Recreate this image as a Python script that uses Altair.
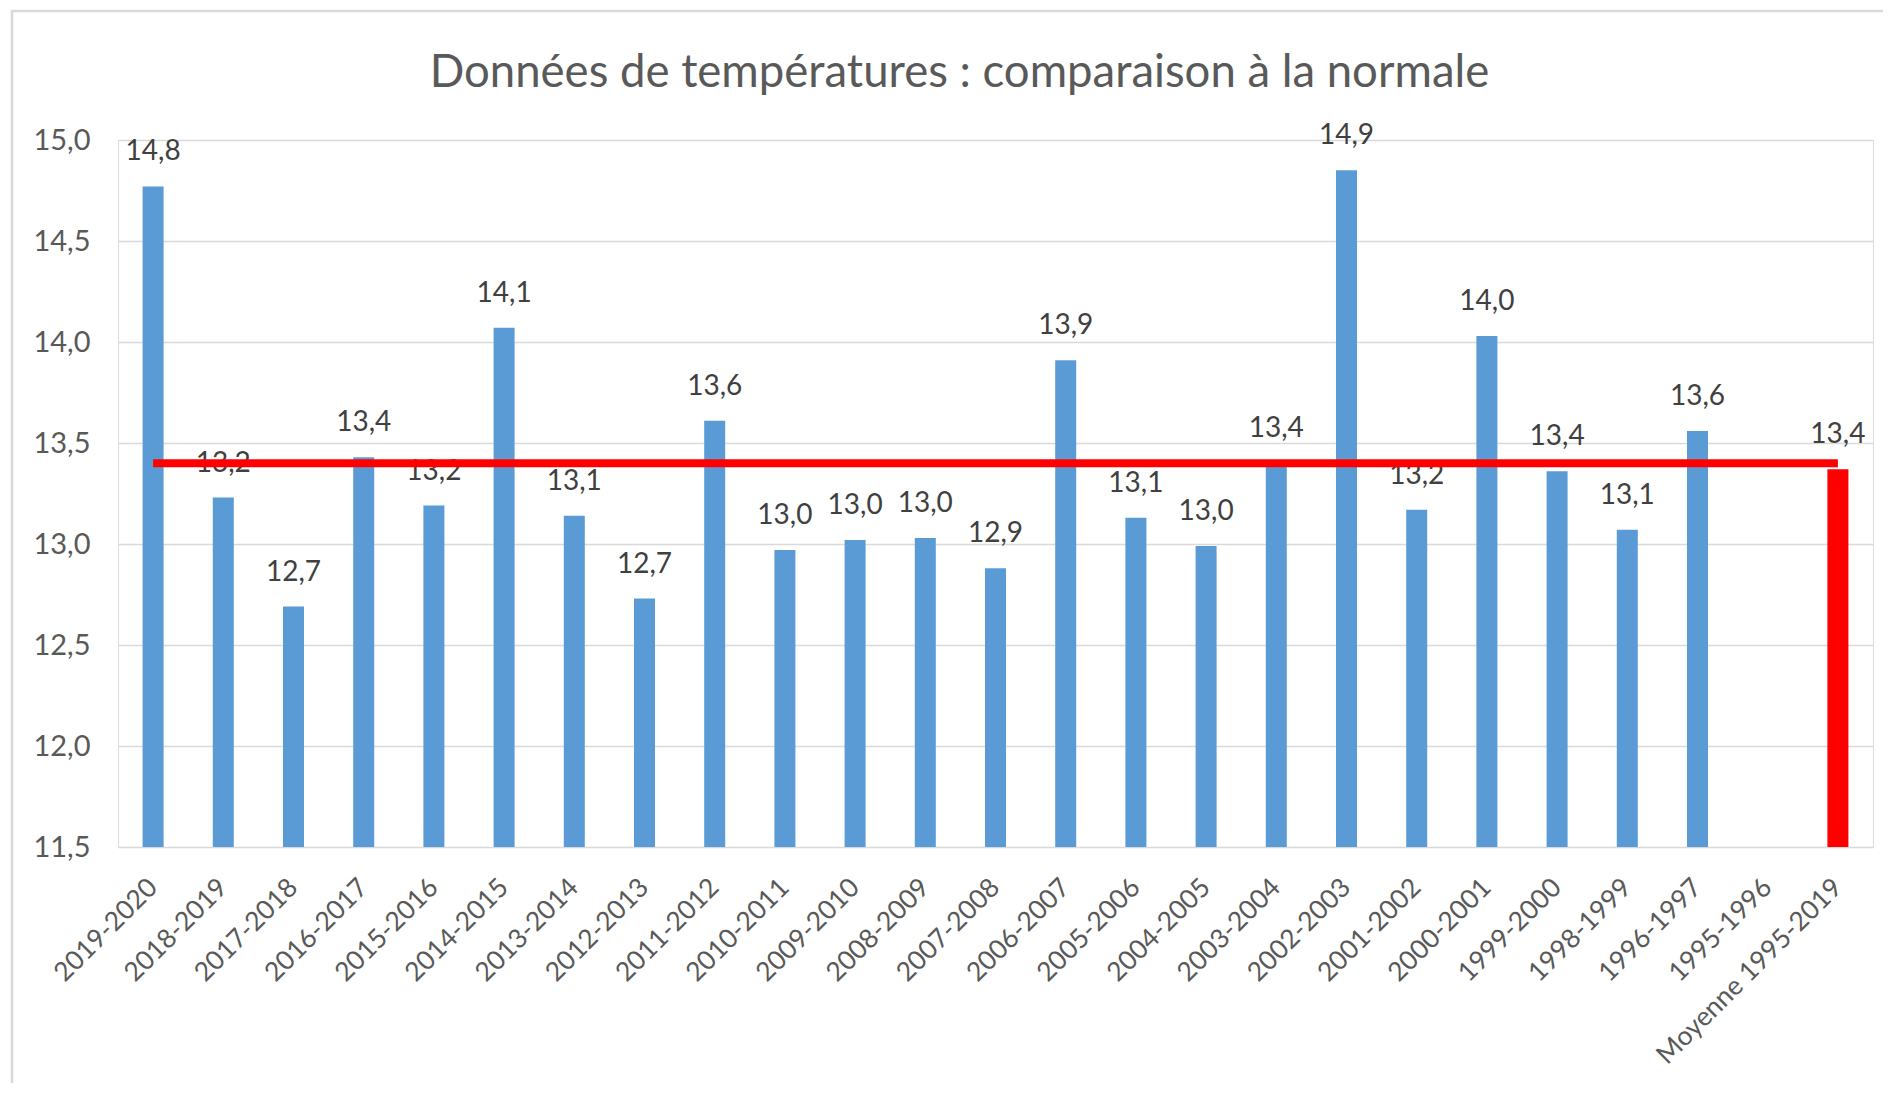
import altair as alt
import pandas as pd

categories = ["2019-2020", "2018-2019", "2017-2018", "2016-2017", "2015-2016",
              "2014-2015", "2013-2014", "2012-2013", "2011-2012", "2010-2011",
              "2009-2010", "2008-2009", "2007-2008", "2006-2007", "2005-2006",
              "2004-2005", "2003-2004", "2002-2003", "2001-2002", "2000-2001",
              "1999-2000", "1998-1999", "1996-1997", "1995-1996", "Moyenne 1995-2019"]
values = [14.77, 13.23, 12.69, 13.43, 13.19,
          14.07, 13.14, 12.73, 13.61, 12.97,
          13.02, 13.03, 12.88, 13.91, 13.13,
          12.99, 13.40, 14.85, 13.17, 14.03,
          13.36, 13.07, 13.56, None, 13.37]
normale = 13.4
y_ticks = [11.5, 12.0, 12.5, 13.0, 13.5, 14.0, 14.5, 15.0]

kinds = ["Moyenne" if c.startswith("Moyenne") else "Année" for c in categories]
labels = ["" if v is None else f"{v + 1e-9:.1f}".replace(".", ",") for v in values]
df = pd.DataFrame({"cat": categories, "val": values, "kind": kinds,
                   "lab": labels, "norm": [normale] * len(categories)})

FONT = "Lato"
W, H = 1755, 707

xscale = alt.Scale(domain=categories)
yscale = alt.Scale(domain=[11.5, 15.0], nice=False, zero=False)

x_enc = alt.X("cat:N", scale=xscale, sort=categories, title=None,
              axis=alt.Axis(labelAngle=-45, labelAlign="right", labelBaseline="middle",
                            labelPadding=36, ticks=False, domain=False, grid=False,
                            labelFont=FONT, labelFontSize=26.5, labelColor="#595959",
                            labelOverlap=False, labelBound=False, labelLimit=600))

frame = alt.Chart(pd.DataFrame({"a": [0]})).mark_rect(
    fill=None, stroke="#d9d9d9", strokeWidth=2.5, clip=False
).encode(x=alt.value(-106), x2=alt.value(1900), y=alt.value(-129), y2=alt.value(1000))

bars = alt.Chart(df).mark_bar(size=21, clip=False).encode(
    x=x_enc,
    y=alt.Y("val:Q", scale=yscale, title=None,
            axis=alt.Axis(values=y_ticks, labelExpr="replace(format(datum.value, '.1f'), '.', ',')",
                          ticks=False, domain=False, labelPadding=28,
                          gridColor="#d9d9d9", gridWidth=1.5,
                          labelFont=FONT, labelFontSize=29, labelColor="#595959")),
    y2=alt.datum(11.5),
    color=alt.Color("kind:N", scale=alt.Scale(domain=["Année", "Moyenne"],
                                              range=["#5b9bd5", "#ff0000"]), legend=None),
)

text = alt.Chart(df).mark_text(baseline="middle", align="center", dy=-34,
                               font=FONT, fontSize=28, color="#404040").encode(
    x=alt.X("cat:N", scale=xscale, sort=categories),
    y=alt.Y("val:Q", scale=yscale),
    text="lab:N",
)

line = alt.Chart(df).mark_line(color="#ff0000", strokeWidth=8).encode(
    x=alt.X("cat:N", scale=xscale, sort=categories),
    y=alt.Y("norm:Q", scale=yscale),
)

chart = alt.layer(frame, bars, text, line).properties(
    width=W, height=H,
    title=alt.TitleParams("Données de températures : comparaison à la normale",
                          font=FONT, fontSize=45.5, fontWeight="normal", color="#595959",
                          anchor="middle", dx=-36, offset=-87),
    autosize=alt.AutoSizeParams(type="none"),
    padding={"left": 110, "top": 132, "right": 10, "bottom": 236},
).configure_view(stroke=None).configure(background="white")

chart.save("out.html", embed_options={"renderer": "svg", "actions": False})
